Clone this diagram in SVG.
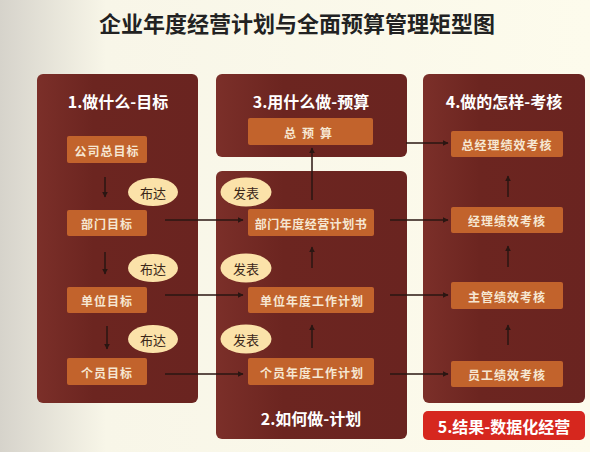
<svg xmlns="http://www.w3.org/2000/svg" width="590" height="452" viewBox="0 0 590 452">
<defs>
<linearGradient id="bg" x1="0" y1="0" x2="1" y2="0">
<stop offset="0" stop-color="#d6d3cb"/>
<stop offset="0.18" stop-color="#f8f6e8"/>
<stop offset="1" stop-color="#fdfbec"/>
</linearGradient>
<linearGradient id="pg" x1="0" y1="0" x2="1" y2="0">
<stop offset="0" stop-color="#7b2f29"/>
<stop offset="0.35" stop-color="#6c2520"/>
<stop offset="1" stop-color="#6a2420"/>
</linearGradient>
<marker id="ah" viewBox="0 0 10 10" refX="9" refY="5" markerWidth="6" markerHeight="6" orient="auto" markerUnits="userSpaceOnUse">
<path d="M0,0 L10,5 L0,10 z" fill="#2a1612"/>
</marker>
<style>
.panel{fill:url(#pg);}
.box{fill:#c2632c;}
.bt{font-family:"Noto Sans CJK SC","Noto Sans",sans-serif;font-size:12px;font-weight:bold;fill:#f6e7d2;text-anchor:middle;dominant-baseline:central;letter-spacing:1px;}
.hd{font-family:"Noto Sans CJK SC","Noto Sans",sans-serif;font-size:16px;font-weight:bold;fill:#ffffff;text-anchor:middle;dominant-baseline:central;}
.el{fill:#fbe2a9;}
.et{font-family:"Noto Sans CJK SC","Noto Sans",sans-serif;font-size:13px;fill:#3a2618;text-anchor:middle;dominant-baseline:central;}
.ar{stroke:#2a1612;stroke-width:1.5;fill:none;marker-end:url(#ah);}
</style>
</defs>
<rect x="0" y="0" width="590" height="452" fill="url(#bg)"/>
<text x="297" y="22" font-family="'Noto Sans CJK SC',sans-serif" font-size="22" font-weight="bold" fill="#222" text-anchor="middle" dominant-baseline="central">企业年度经营计划与全面预算管理矩型图</text>

<g id="panel1">
<rect class="panel" x="37" y="74" width="161" height="329" rx="6"/>
<text class="hd" x="118" y="101">1.做什么-目标</text>
</g>
<g id="panel3">
<rect class="panel" x="216" y="74" width="191" height="83" rx="6"/>
<text class="hd" x="311" y="101">3.用什么做-预算</text>
</g>
<g id="panel2">
<rect class="panel" x="216" y="171" width="191" height="268" rx="6"/>
<text class="hd" x="311" y="418">2.如何做-计划</text>
</g>
<g id="panel4">
<rect class="panel" x="423" y="74" width="162" height="329" rx="6"/>
<text class="hd" x="504" y="101">4.做的怎样-考核</text>
</g>
<g id="panel5">
<rect x="423" y="411" width="162" height="29" rx="5" fill="#d6271e"/>
<text class="hd" x="504" y="426" font-size="17">5.结果-数据化经营</text>
</g>

<g id="n-company"><rect class="box" x="67" y="136" width="80" height="27" rx="2"/><text class="bt" x="107" y="150">公司总目标</text></g>
<g id="n-dept"><rect class="box" x="67" y="210" width="80" height="26" rx="2"/><text class="bt" x="107" y="223">部门目标</text></g>
<g id="n-unit"><rect class="box" x="67" y="287" width="80" height="26" rx="2"/><text class="bt" x="107" y="300">单位目标</text></g>
<g id="n-person"><rect class="box" x="67" y="358" width="80" height="27" rx="2"/><text class="bt" x="107" y="372">个员目标</text></g>

<g id="n-budget"><rect class="box" x="248" y="118" width="125" height="27" rx="2"/><text class="bt" x="311" y="132" style="letter-spacing:6px">总预算</text></g>
<g id="n-deptplan"><rect class="box" x="248" y="209" width="126" height="27" rx="2"/><text class="bt" x="311" y="223" style="letter-spacing:0.5px">部门年度经营计划书</text></g>
<g id="n-unitplan"><rect class="box" x="248" y="287" width="126" height="26" rx="2"/><text class="bt" x="312" y="300">单位年度工作计划</text></g>
<g id="n-personplan"><rect class="box" x="248" y="358" width="126" height="27" rx="2"/><text class="bt" x="312" y="372">个员年度工作计划</text></g>

<g id="n-gm"><rect class="box" x="451" y="131" width="112" height="26" rx="2"/><text class="bt" x="507" y="144">总经理绩效考核</text></g>
<g id="n-mgr"><rect class="box" x="451" y="207" width="112" height="26" rx="2"/><text class="bt" x="507" y="220">经理绩效考核</text></g>
<g id="n-sup"><rect class="box" x="451" y="282" width="112" height="27" rx="2"/><text class="bt" x="507" y="296">主管绩效考核</text></g>
<g id="n-emp"><rect class="box" x="451" y="361" width="112" height="26" rx="2"/><text class="bt" x="507" y="374">员工绩效考核</text></g>

<g id="e-buda1"><ellipse class="el" cx="153" cy="192" rx="25" ry="14"/><text class="et" x="153" y="192">布达</text></g>
<g id="e-buda2"><ellipse class="el" cx="153" cy="268" rx="25" ry="14"/><text class="et" x="153" y="268">布达</text></g>
<g id="e-buda3"><ellipse class="el" cx="153" cy="339" rx="25" ry="14"/><text class="et" x="153" y="339">布达</text></g>
<g id="e-fabiao1"><ellipse class="el" cx="246" cy="192" rx="25.5" ry="14.5"/><text class="et" x="246" y="192">发表</text></g>
<g id="e-fabiao2"><ellipse class="el" cx="246" cy="268" rx="25.5" ry="14.5"/><text class="et" x="246" y="268">发表</text></g>
<g id="e-fabiao3"><ellipse class="el" cx="246" cy="339" rx="25.5" ry="14.5"/><text class="et" x="246" y="339">发表</text></g>

<g id="connectors">
<line class="ar" x1="105" y1="177" x2="105" y2="197"/>
<line class="ar" x1="105" y1="252" x2="105" y2="274"/>
<line class="ar" x1="107" y1="326" x2="107" y2="349"/>
<line class="ar" x1="165" y1="220" x2="243" y2="220"/>
<line class="ar" x1="165" y1="295" x2="243" y2="295"/>
<line class="ar" x1="165" y1="374" x2="243" y2="374"/>
<line class="ar" x1="390" y1="220" x2="448" y2="220"/>
<line class="ar" x1="390" y1="295" x2="448" y2="295"/>
<line class="ar" x1="390" y1="374" x2="448" y2="374"/>
<line class="ar" x1="406" y1="143" x2="448" y2="143"/>
<line class="ar" x1="312" y1="200" x2="312" y2="148"/>
<line class="ar" x1="312" y1="268" x2="312" y2="247"/>
<line class="ar" x1="312" y1="348" x2="312" y2="325"/>
<line class="ar" x1="508" y1="197" x2="508" y2="176"/>
<line class="ar" x1="508" y1="267" x2="508" y2="246"/>
<line class="ar" x1="508" y1="345" x2="508" y2="325"/>
</g>
</svg>
